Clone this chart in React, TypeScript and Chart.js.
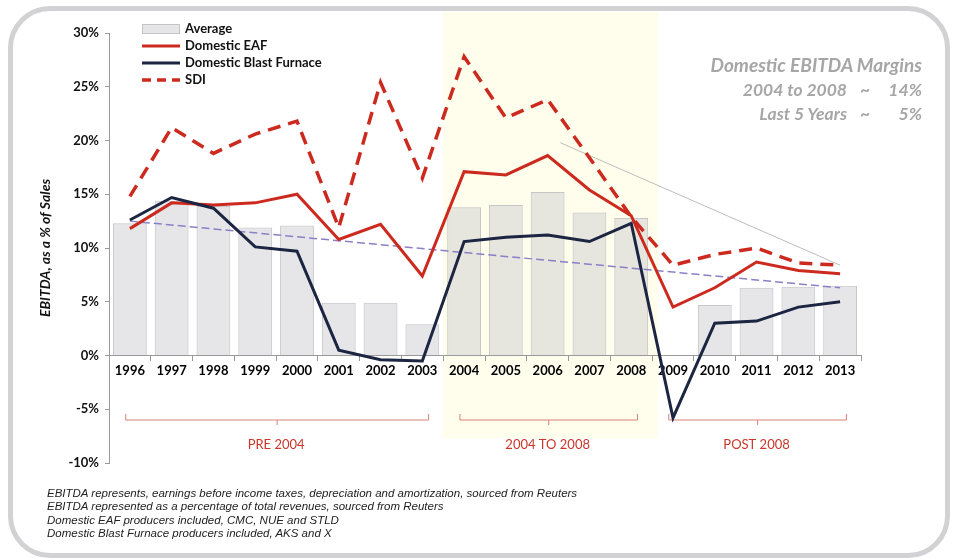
import React, { useEffect, useRef } from "react";
import { Chart, registerables } from "chart.js";
Chart.register(...registerables);

const years = ["1996", "1997", "1998", "1999", "2000", "2001", "2002", "2003", "2004", "2005", "2006", "2007", "2008", "2009", "2010", "2011", "2012", "2013"];
const average = [12.3, 14.4, 13.9, 11.9, 12.1, 4.9, 4.9, 2.9, 13.8, 14.0, 15.2, 13.3, 12.8, null, 4.7, 6.3, 6.4, 6.5];
const eaf = [11.8, 14.2, 14.0, 14.2, 15.0, 10.8, 12.2, 7.4, 17.1, 16.8, 18.6, 15.4, 13.0, 4.5, 6.3, 8.7, 7.9, 7.6];
const blastFurnace = [12.6, 14.7, 13.7, 10.1, 9.7, 0.5, -0.4, -0.5, 10.6, 11.0, 11.2, 10.6, 12.3, -5.8, 3.0, 3.2, 4.5, 5.0];
const sdi = [14.8, 21.2, 18.8, 20.6, 21.8, 11.9, 25.4, 16.5, 27.8, 22.1, 23.8, 18.4, 12.9, 8.4, 9.4, 10.0, 8.6, 8.4];
const averageTrend = [12.5, null, null, null, null, null, null, null, null, null, null, null, null, null, null, null, null, 6.3];
const convergence = [{ x: 2006.3, y: 19.8 }, { x: 2013, y: 8.4 }];
const yMin = -10;
const yMax = 30;
const yStep = 5;
const periods = [
  { label: "PRE 2004", from: "1996", to: "2003" },
  { label: "2004 TO 2008", from: "2004", to: "2008" },
  { label: "POST 2008", from: "2009", to: "2013" },
];
const highlight = { from: 2003.5, to: 2008.65 };
const marginTitle = "Domestic EBITDA Margins";
const marginRows = [
  { label: "2004 to 2008", value: "14%" },
  { label: "Last 5 Years", value: "5%" },
];
const footnotes = [
  "EBITDA represents, earnings before income taxes, depreciation and amortization, sourced from Reuters",
  "EBITDA represented as a percentage of total revenues, sourced from Reuters",
  "Domestic EAF producers included, CMC, NUE and STLD",
  "Domestic Blast Furnace producers included, AKS and X",
];

const RED = "#cc2a1f";
const NAVY = "#1c2541";
const FONT = "Lato, 'Open Sans', sans-serif";

const bandPlugin = {
  id: "band",
  beforeDraw(chart: any) {
    const { ctx } = chart;
    const xl = chart.scales.xl;
    const y = chart.scales.y;
    const x0 = xl.getPixelForValue(highlight.from);
    const x1 = xl.getPixelForValue(highlight.to);
    const bottom = y.getPixelForValue(-7.7);
    ctx.save();
    ctx.fillStyle = "rgba(255,248,190,0.3)";
    ctx.fillRect(x0, 12, x1 - x0, bottom - 12);
    ctx.restore();
  },
};

const bracketPlugin = {
  id: "brackets",
  beforeDatasetsDraw(chart: any) {
    const { ctx } = chart;
    const x = chart.scales.x;
    const y = chart.scales.y;
    const yb = y.getPixelForValue(-6);
    const yl = y.getPixelForValue(-8.3);
    const w = x.getPixelForValue(1) - x.getPixelForValue(0);
    ctx.save();
    periods.forEach((p) => {
      const c0 = x.getPixelForValue(years.indexOf(p.from));
      const c1 = x.getPixelForValue(years.indexOf(p.to));
      const x0 = c0 - 0.1 * w;
      const x1 = c1 + 0.15 * w;
      const xm = (x0 + x1) / 2;
      ctx.strokeStyle = "#d98074";
      ctx.lineWidth = 1;
      ctx.beginPath();
      ctx.moveTo(x0, yb - 6);
      ctx.lineTo(x0, yb);
      ctx.lineTo(x1, yb);
      ctx.lineTo(x1, yb - 6);
      ctx.moveTo(xm, yb);
      ctx.lineTo(xm, yb + 5);
      ctx.stroke();
      ctx.fillStyle = "#c8372a";
      ctx.font = "13px " + FONT;
      ctx.textAlign = "center";
      ctx.textBaseline = "middle";
      ctx.fillText(p.label, (c0 + c1) / 2, yl);
    });
    ctx.restore();
  },
};

const legendPlugin = {
  id: "customLegend",
  afterDraw(chart: any) {
    const { ctx } = chart;
    const sx0 = 142;
    const sx1 = 180;
    const tx = 185;
    const rows = [29, 46, 63, 80];
    ctx.save();
    ctx.fillStyle = "#e6e6e8";
    ctx.strokeStyle = "#c4c4c8";
    ctx.lineWidth = 1;
    ctx.fillRect(sx0, rows[0] - 5, sx1 - sx0, 10);
    ctx.strokeRect(sx0 + 0.5, rows[0] - 4.5, sx1 - sx0 - 1, 9);
    ctx.lineWidth = 3;
    ctx.strokeStyle = RED;
    ctx.beginPath();
    ctx.moveTo(sx0, rows[1]);
    ctx.lineTo(sx1, rows[1]);
    ctx.stroke();
    ctx.strokeStyle = NAVY;
    ctx.beginPath();
    ctx.moveTo(sx0, rows[2]);
    ctx.lineTo(sx1, rows[2]);
    ctx.stroke();
    ctx.strokeStyle = RED;
    ctx.lineWidth = 3.5;
    ctx.setLineDash([9, 6]);
    ctx.beginPath();
    ctx.moveTo(sx0, rows[3]);
    ctx.lineTo(sx1, rows[3]);
    ctx.stroke();
    ctx.setLineDash([]);
    const names = chart.data.datasets.filter((d: any) => d.inLegend).map((d: any) => d.label);
    ctx.fillStyle = "#111";
    ctx.font = "bold 13px " + FONT;
    ctx.textAlign = "left";
    ctx.textBaseline = "middle";
    names.forEach((n: string, i: number) => ctx.fillText(n, tx, rows[i]));
    ctx.restore();
  },
};

export default function App() {
  const ref = useRef<HTMLCanvasElement | null>(null);
  useEffect(() => {
    if (!ref.current) return;
    const chart = new Chart(ref.current, {
      type: "bar",
      data: {
        labels: years,
        datasets: [
          {
            type: "bar",
            label: "Average",
            inLegend: true,
            data: average,
            backgroundColor: "rgba(200,200,206,0.45)",
            borderColor: "rgba(175,175,182,0.7)",
            borderWidth: 1,
            barPercentage: 0.81,
            categoryPercentage: 1,
            grouped: false,
            order: 10,
          } as any,
          {
            type: "line",
            label: "Domestic EAF",
            inLegend: true,
            data: eaf,
            borderColor: RED,
            borderWidth: 3,
            pointRadius: 0,
            tension: 0,
            order: 3,
          } as any,
          {
            type: "line",
            label: "Domestic Blast Furnace",
            inLegend: true,
            data: blastFurnace,
            borderColor: NAVY,
            borderWidth: 3,
            pointRadius: 0,
            tension: 0,
            order: 2,
          } as any,
          {
            type: "line",
            label: "SDI",
            inLegend: true,
            data: sdi,
            borderColor: RED,
            borderWidth: 3.5,
            borderDash: [13, 8],
            pointRadius: 0,
            tension: 0,
            order: 1,
          } as any,
          {
            type: "line",
            label: "Average trend",
            data: averageTrend,
            borderColor: "#8a80c6",
            borderWidth: 1.5,
            borderDash: [8, 4],
            pointRadius: 0,
            spanGaps: true,
            order: 5,
          } as any,
          {
            type: "line",
            label: "Convergence",
            data: convergence,
            xAxisID: "xl",
            borderColor: "#bdbdbd",
            borderWidth: 1,
            pointRadius: 0,
            order: 6,
          } as any,
        ],
      },
      options: {
        animation: false,
        responsive: true,
        maintainAspectRatio: false,
        layout: { padding: { left: 33, right: 95, top: 33, bottom: 95 } },
        plugins: { legend: { display: false }, tooltip: { enabled: false } },
        scales: {
          x: {
            type: "category",
            position: { y: 0 } as any,
            offset: true,
            grid: { drawOnChartArea: false, drawTicks: true, tickLength: 5, offset: true, color: "#9a9a9a" },
            border: { color: "#9a9a9a" },
            ticks: { color: "#000", font: { family: FONT, size: 13, weight: "bold" }, padding: 3, maxRotation: 0, autoSkip: false },
          },
          xl: {
            type: "linear",
            display: false,
            min: 1995.5,
            max: 2013.5,
            offset: false,
          },
          y: {
            min: yMin,
            max: yMax,
            afterFit: (s: any) => {
              s.width = 76;
            },
            grid: { drawOnChartArea: false, drawTicks: true, tickLength: 4, color: "#9a9a9a" },
            border: { color: "#9a9a9a" },
            ticks: {
              stepSize: yStep,
              color: "#111",
              padding: 6,
              font: { family: FONT, size: 13, weight: "bold" },
              callback: (v: any) => v + "%",
            },
            title: {
              display: true,
              text: "EBITDA, as a % of Sales",
              color: "#111",
              font: { family: FONT, size: 14, weight: "bold", style: "italic" },
              padding: { top: 4, bottom: 4 },
            },
          },
        },
      } as any,
      plugins: [bandPlugin, bracketPlugin, legendPlugin],
    });
    return () => chart.destroy();
  }, []);

  const annot: React.CSSProperties = {
    fontFamily: FONT,
    fontWeight: "bold",
    fontStyle: "italic",
    fontSize: 19,
    color: "#a6a6a6",
    whiteSpace: "nowrap",
  };

  return (
    <div style={{ position: "fixed", left: 0, top: 0, width: 956, height: 558, background: "#fff" }}>
      <div
        style={{
          position: "absolute",
          left: 8,
          top: 6,
          width: 942,
          height: 552,
          boxSizing: "border-box",
          border: "5px solid #d2d2d4",
          borderRadius: 42,
        }}
      />
      <div style={{ position: "absolute", left: 0, top: 0, width: 956, height: 558 }}>
        <canvas ref={ref} />
      </div>
      <div style={{ position: "absolute", left: 0, top: 53, width: 922 }}>
        <div style={{ ...annot, textAlign: "right", height: 24.5, lineHeight: "24.5px" }}>{marginTitle}</div>
        {marginRows.map((r) => (
          <div key={r.label} style={{ ...annot, fontSize: 17.5, height: 24.5, lineHeight: "24.5px", display: "flex", justifyContent: "flex-end" }}>
            <span>{r.label}</span>
            <span style={{ width: 36, textAlign: "center" }}>~</span>
            <span style={{ width: 39, textAlign: "right" }}>{r.value}</span>
          </div>
        ))}
      </div>
      <div
        style={{
          position: "absolute",
          left: 47,
          top: 487,
          fontFamily: "'Liberation Sans', Arial, sans-serif",
          fontStyle: "italic",
          fontSize: 11.5,
          lineHeight: "13.3px",
          color: "#222",
          whiteSpace: "nowrap",
        }}
      >
        {footnotes.map((f) => (
          <div key={f}>{f}</div>
        ))}
      </div>
    </div>
  );
}
